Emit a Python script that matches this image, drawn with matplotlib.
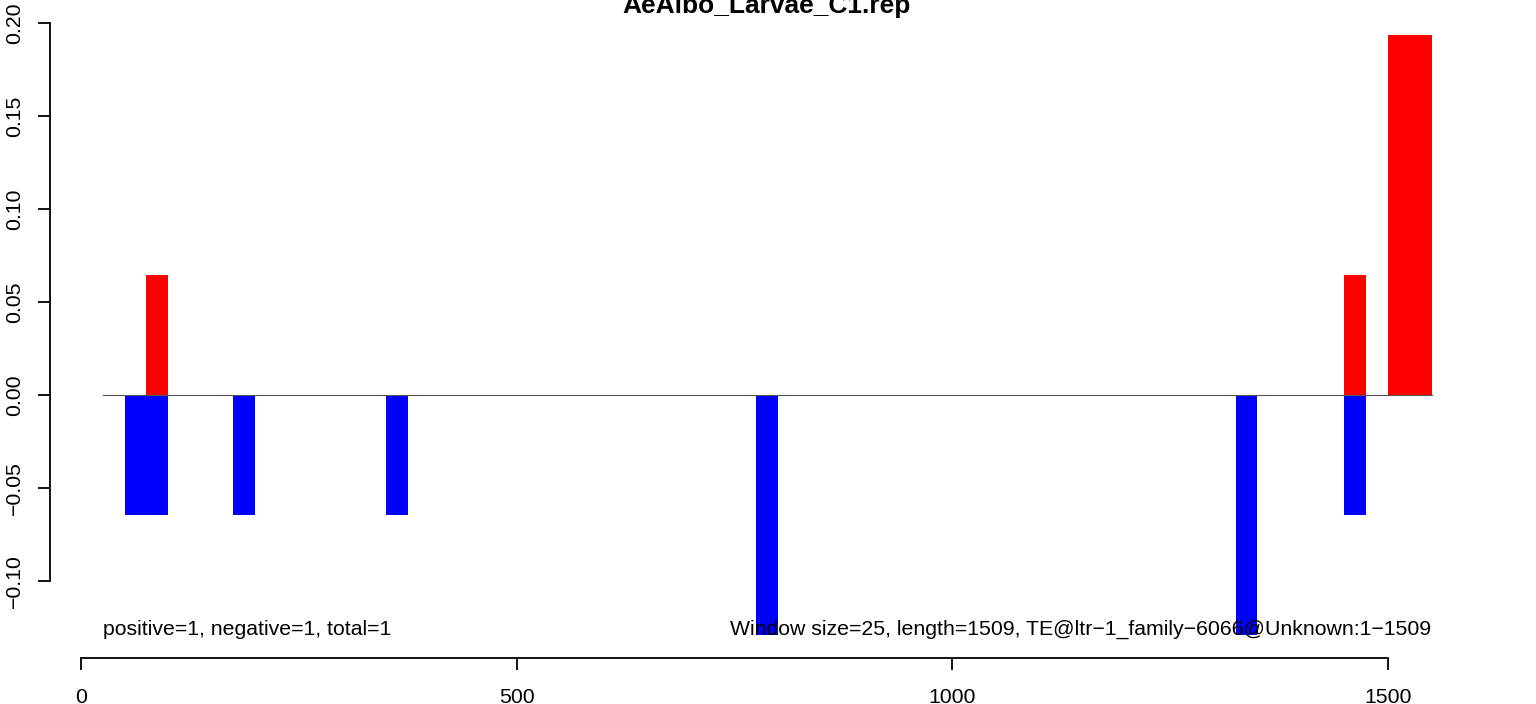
import matplotlib
matplotlib.use("Agg")
import matplotlib.pyplot as plt

plt.rcParams['font.family'] = ['Liberation Sans', 'DejaVu Sans']

title = "AeAlbo_Larvae_C1.rep"
window = 25
pos_starts = [75, 1450, 1500, 1525]
pos_values = [0.0645, 0.0645, 0.1935, 0.1935]
neg_starts = [50, 75, 175, 350, 775, 1325, 1450]
neg_values = [-0.0645, -0.0645, -0.0645, -0.0645, -0.129, -0.129, -0.0645]
left_note = "positive=1, negative=1, total=1"
right_note = "Window size=25, length=1509, TE@ltr\u22121_family\u22126066@Unknown:1\u22121509"
xticks = [0, 500, 1000, 1500]
yticks = [-0.10, -0.05, 0.00, 0.05, 0.10, 0.15, 0.20]
ytick_labels = ["\u22120.10", "\u22120.05", "0.00", "0.05", "0.10", "0.15", "0.20"]

fig = plt.figure(figsize=(15.36, 7.04), dpi=100)
ax = fig.add_axes([0, 0, 1, 1])
ax.patch.set_alpha(0)

# pixel mapping
px_per_x = 1307 / 1500.0
x0_px = 81
px_per_y = 1860.0
y0_px = 395
ax.set_xlim(-x0_px / px_per_x, (1536 - x0_px) / px_per_x)
ax.set_ylim((y0_px - 704) / px_per_y, y0_px / px_per_y)

ax.bar(neg_starts, neg_values, width=window, align='edge', color='#0000FF', linewidth=0, zorder=2)
ax.bar(pos_starts, pos_values, width=window, align='edge', color='#FF0000', linewidth=0, zorder=2)
ax.plot([25, 1550], [0, 0], color='#555555', linewidth=0.8, zorder=3)

fs = 15.3
ax.text(25, (y0_px - 635) / px_per_y, left_note, ha='left', va='baseline', fontsize=fs, zorder=4)
ax.text(1550, (y0_px - 635) / px_per_y, right_note, ha='right', va='baseline', fontsize=fs, zorder=4)

ax.text(767 / px_per_x - x0_px / px_per_x, (y0_px - 13) / px_per_y, title,
        ha='center', va='baseline', fontsize=19, fontweight='bold')

for s in ['top', 'right']:
    ax.spines[s].set_visible(False)
ax.spines['left'].set_position(('data', (50 - x0_px) / px_per_x))
ax.spines['left'].set_bounds(-0.10, 0.20)
ax.spines['bottom'].set_position(('data', (y0_px - 658) / px_per_y))
ax.spines['bottom'].set_bounds(0, 1500)
for s in ['left', 'bottom']:
    ax.spines[s].set_linewidth(1.3)

ax.set_xticks(xticks)
ax.set_xticklabels([str(t) for t in xticks])
ax.set_yticks(yticks)
ax.set_yticklabels(ytick_labels, rotation=90, va='center')
ax.tick_params(axis='both', direction='out', length=8.5, width=1.3, labelsize=fs)
ax.tick_params(axis='y', pad=10)
ax.tick_params(axis='x', pad=13)

fig.savefig("out.png", dpi=100)
